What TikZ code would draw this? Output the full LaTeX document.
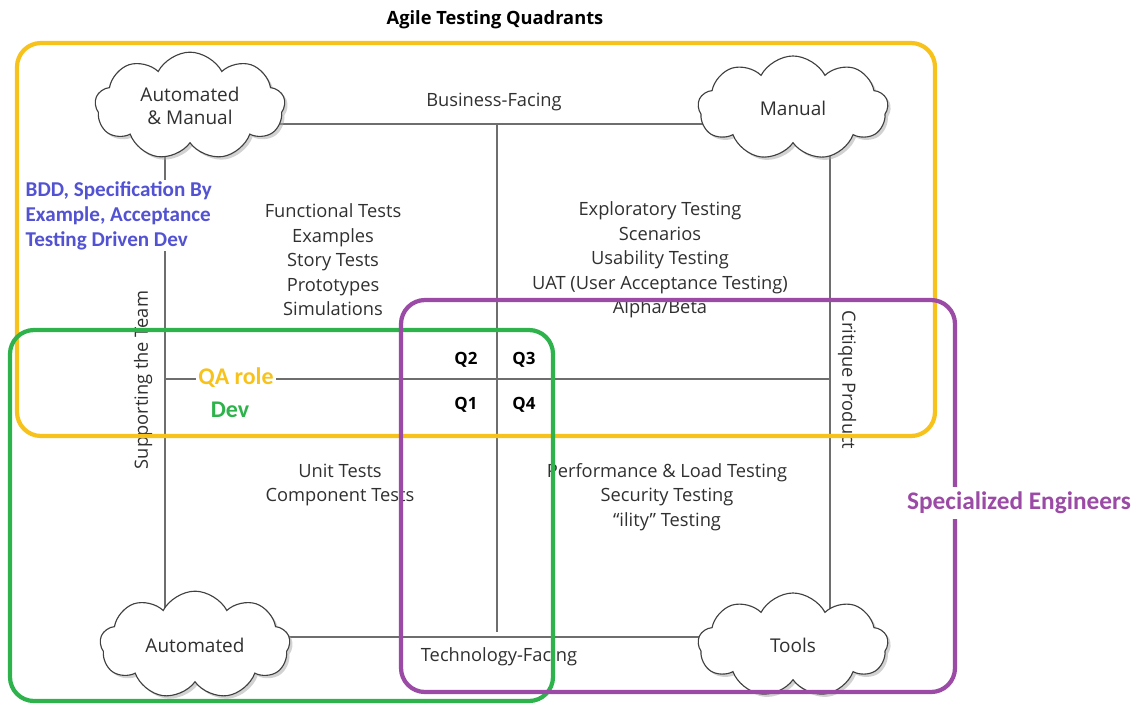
\documentclass[tikz,border=0pt]{standalone}
\usepackage{fontspec}
\setmainfont{Open Sans}
\newfontfamily\calfont{Carlito}
\usetikzlibrary{shapes.symbols,shadows}
\definecolor{qayellow}{HTML}{F8C21C}
\definecolor{devgreen}{HTML}{2EB24B}
\definecolor{specpurple}{HTML}{9B4AA6}
\definecolor{bddblue}{HTML}{5252D2}
\definecolor{axisgray}{HTML}{6E6E6E}
\definecolor{inkgray}{HTML}{303030}

\begin{document}
\begin{tikzpicture}[x=0.025cm, y=-0.025cm,
    puff/.style={cloud, cloud puffs=9, cloud puff arc=125, aspect=1.9,
      draw=black!75, fill=white, line width=0.8pt,
      drop shadow={shadow xshift=2pt, shadow yshift=-2pt, fill=black!35},
      minimum width=4.75cm, minimum height=2.6cm, align=center,
      text=inkgray, font=\fontsize{13.5}{16.5}\selectfont},
    axis/.style={draw=axisgray, line width=1pt},
    quad/.style={align=center, text=inkgray, font=\fontsize{13}{17.4}\selectfont},
    qtag/.style={text=black, font=\bfseries\fontsize{12}{14}\selectfont},
    role/.style={font=\calfont\bfseries\fontsize{17}{20}\selectfont},
    group/.style={rounded corners=0.6cm, line width=3pt}]
    \useasboundingbox (0,0) rectangle (1136,704);

    % Title
    \node[font=\bfseries\fontsize{13}{15}\selectfont] (title) at (495,20) {Agile Testing Quadrants};

    % Axes
    \coordinate (tl) at (165,124);
    \coordinate (tr) at (830,124);
    \coordinate (br) at (830,637);
    \coordinate (bl) at (165,637);
    \coordinate (topmid) at (497,124);
    \coordinate (botmid) at (497,632);
    \coordinate (leftmid) at (165,379);
    \coordinate (rightmid) at (830,379);
    \draw[axis] (tl) -- (tr) -- (br) -- (bl) -- cycle;
    \draw[axis] (topmid) -- (botmid);
    \draw[axis] (leftmid) -- (rightmid);

    % Axis labels
    \node[quad] (business) at (494,102) {Business-Facing};
    \node[quad] (technology) at (499,657) {Technology-Facing};
    \node[quad, rotate=90] (support) at (143,380) {Supporting the Team};
    \node[quad, rotate=-90] (critique) at (847,380) {Critique Product};

    % Quadrant contents
    \node[quad] (q2text) at (333,260) {Functional Tests\\Examples\\Story Tests\\Prototypes\\Simulations};
    \node[quad] (q3text) at (660,260) {Exploratory Testing\\Scenarios\\Usability Testing\\UAT (User Acceptance Testing)\\Alpha/Beta};
    \node[quad] (q1text) at (340,485) {Unit Tests\\Component Tests};
    \node[quad] (q4text) at (667,497) {Performance \& Load Testing\\Security Testing\\“ility” Testing};

    % Quadrant tags
    \node[qtag] (q2) at (466,360) {Q2};
    \node[qtag] (q3) at (524,360) {Q3};
    \node[qtag] (q1) at (466,405) {Q1};
    \node[qtag] (q4) at (524,405) {Q4};

    % Roles
    \node[role, text=qayellow, fill=white, inner xsep=2pt] (qarole) at (236,378) {QA role};
    \node[role, text=devgreen] (dev) at (230,410) {Dev};
    \node[font=\calfont\bfseries\fontsize{15}{17.6}\selectfont, text=bddblue, fill=white,
      align=left, anchor=north west, inner sep=1pt] (bdd) at (24,180)
      {BDD, Specification By\\Example, Acceptance\\Testing Driven Dev};

    % Clouds
    \node[puff] (automan) at (190,106) {Automated\\\& Manual};
    \node[puff] (manual) at (793,108) {Manual};
    \node[puff] (automated) at (195,645) {Automated};
    \node[puff] (tools) at (793,645) {Tools};

    % Groups
    \draw[group, draw=qayellow] (17,43) rectangle (935,436);
    \draw[group, draw=devgreen] (10,330) rectangle (553,701);
    \draw[group, draw=specpurple] (401,300) rectangle (955,692);
    \node[role, text=specpurple, fill=white, font=\calfont\bfseries\fontsize{18}{21}\selectfont] (specialists) at (1019,503) {Specialized Engineers};
\end{tikzpicture}
\end{document}
